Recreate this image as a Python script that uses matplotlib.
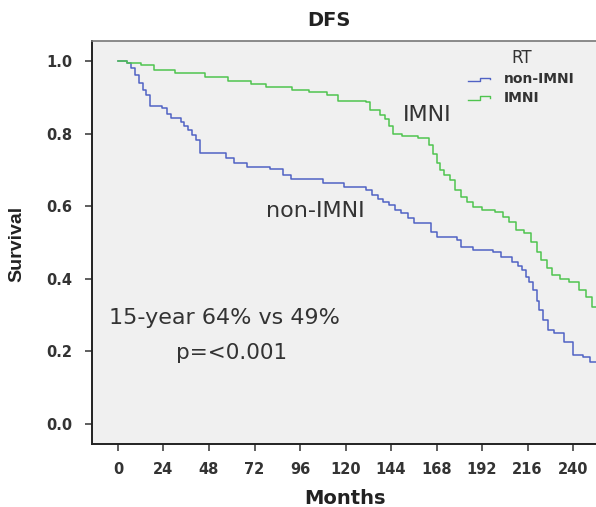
import matplotlib
matplotlib.use("Agg")
import matplotlib.pyplot as plt
from matplotlib.legend_handler import HandlerBase
from matplotlib.lines import Line2D
import numpy as np

plt.rcParams['font.family'] = ['DejaVu Sans']

# Data
imni_months = [0, 5, 12, 19, 30, 46, 58, 70, 78, 92, 101, 110, 116, 131, 133, 138, 141, 143, 145, 150,
               158, 164, 166, 168, 170, 172, 175, 178, 181, 184, 187, 192, 199, 203, 206, 210, 214, 218,
               221, 223, 226, 229, 233, 238, 243, 247, 250]
imni_surv = [1.0, 0.995, 0.989, 0.975, 0.968, 0.957, 0.946, 0.937, 0.927, 0.92, 0.915, 0.906, 0.891, 0.888,
             0.865, 0.851, 0.84, 0.82, 0.80, 0.793, 0.788, 0.769, 0.745, 0.72, 0.70, 0.685, 0.672, 0.645,
             0.625, 0.612, 0.598, 0.59, 0.585, 0.57, 0.557, 0.534, 0.526, 0.502, 0.475, 0.452, 0.43, 0.41,
             0.40, 0.392, 0.37, 0.351, 0.323]

non_months = [0, 5, 7, 9, 11, 13, 15, 17, 23, 26, 28, 33, 35, 37, 39, 41, 43, 51, 57, 61, 68, 80, 87, 91,
              108, 119, 131, 134, 137, 140, 143, 146, 149, 153, 156, 165, 168, 179, 181, 187, 198, 202,
              208, 211, 213, 215, 217, 219, 221, 222, 224, 227, 230, 235, 240, 245, 249]
non_surv = [1.0, 0.994, 0.98, 0.96, 0.939, 0.92, 0.906, 0.876, 0.87, 0.855, 0.843, 0.833, 0.82, 0.81, 0.795,
            0.782, 0.747, 0.746, 0.732, 0.719, 0.709, 0.702, 0.686, 0.674, 0.663, 0.654, 0.645, 0.631, 0.62,
            0.612, 0.603, 0.59, 0.581, 0.567, 0.553, 0.53, 0.516, 0.507, 0.488, 0.479, 0.475, 0.461, 0.447,
            0.435, 0.424, 0.405, 0.392, 0.369, 0.34, 0.314, 0.287, 0.26, 0.25, 0.227, 0.19, 0.185, 0.172]

x_ticks = [0, 24, 48, 72, 96, 120, 144, 168, 192, 216, 240]
y_ticks = [0.0, 0.2, 0.4, 0.6, 0.8, 1.0]
group_labels = ['non-IMNI', 'IMNI']

blue = '#5062c4'
green = '#4fc44f'
txt = '#333333'
xmin, xmax = -13.7, 252.1


class StepHandler(HandlerBase):
    def create_artists(self, legend, orig_handle, xdescent, ydescent, width, height, fontsize, trans):
        y0 = height * 0.15 - ydescent
        y1 = height * 0.55 - ydescent
        xs = [-xdescent, -xdescent + width * 0.45, -xdescent + width * 0.45,
              -xdescent + width * 0.85, -xdescent + width * 0.85]
        ys = [y0, y0, y1, y1, y1 - height * 0.2]
        ln = Line2D(xs, ys, color=orig_handle.get_color(), lw=1.0, transform=trans)
        return [ln]


fig = plt.figure(figsize=(5.96, 5.07), dpi=100)
ax = fig.add_axes([92/596, 63/507, 1 - 92/596, 403/507])
ax.set_facecolor('#f0f0f0')

l1, = ax.step(np.append(non_months, xmax), np.append(non_surv, non_surv[-1]), where='post',
              color=blue, lw=1.1, label=group_labels[0])
l2, = ax.step(np.append(imni_months, xmax), np.append(imni_surv, imni_surv[-1]), where='post',
              color=green, lw=1.1, label=group_labels[1])

ax.set_xlim(xmin, xmax)
ax.set_ylim(-0.055, 1.055)
ax.set_xticks(x_ticks)
ax.set_yticks(y_ticks)
ax.set_xticklabels([str(t) for t in x_ticks])
ax.set_yticklabels([f'{t:.1f}' for t in y_ticks])
ax.tick_params(axis='both', length=5, width=1.1, color='#333333', labelsize=10.5, labelcolor=txt)
ax.tick_params(axis='x', pad=8)
ax.tick_params(axis='y', pad=9)
for lab in ax.get_xticklabels() + ax.get_yticklabels():
    lab.set_fontweight('bold')

ax.spines['right'].set_visible(False)
ax.spines['left'].set_color('#222222')
ax.spines['bottom'].set_color('#222222')
ax.spines['left'].set_linewidth(1.4)
ax.spines['bottom'].set_linewidth(1.4)
ax.spines['top'].set_color('#777777')
ax.spines['top'].set_linewidth(1.2)

ax.text(163.3, 0.836, 'IMNI', fontsize=16, color=txt, ha='center', va='baseline')
ax.text(104.3, 0.571, 'non-IMNI', fontsize=16, color=txt, ha='center', va='baseline')
ax.text(56.4, 0.2755, '15-year 64% vs 49%', fontsize=16, color=txt, ha='center', va='baseline')
ax.text(59.9, 0.178, 'p=<0.001', fontsize=15.5, color=txt, ha='center', va='baseline')

leg = ax.legend(handles=[l1, l2], labels=group_labels, title='RT', loc='upper left',
                bbox_to_anchor=(468/596, 1 - 49/507), bbox_transform=fig.transFigure, frameon=False,
                fontsize=10, title_fontsize=12, handlelength=1.9, handletextpad=0.7,
                labelspacing=0.35, borderpad=0.0, borderaxespad=0.0,
                handler_map={Line2D: StepHandler()})
for t in leg.get_texts():
    t.set_color(txt)
    t.set_fontweight('bold')
leg.get_title().set_color(txt)

fig.text(329/596, 1 - 20/507, 'DFS', fontsize=14, fontweight='bold', ha='center', va='center', color='#222222')
fig.text(17/596, 1 - 243.5/507, 'Survival', fontsize=14, fontweight='bold', rotation=90,
         ha='center', va='center', color='#222222', family='Liberation Sans')
fig.text(345.5/596, 1 - 498/507, 'Months', fontsize=14, fontweight='bold', ha='center', va='center', color='#222222')

fig.savefig('out.png', dpi=100)
